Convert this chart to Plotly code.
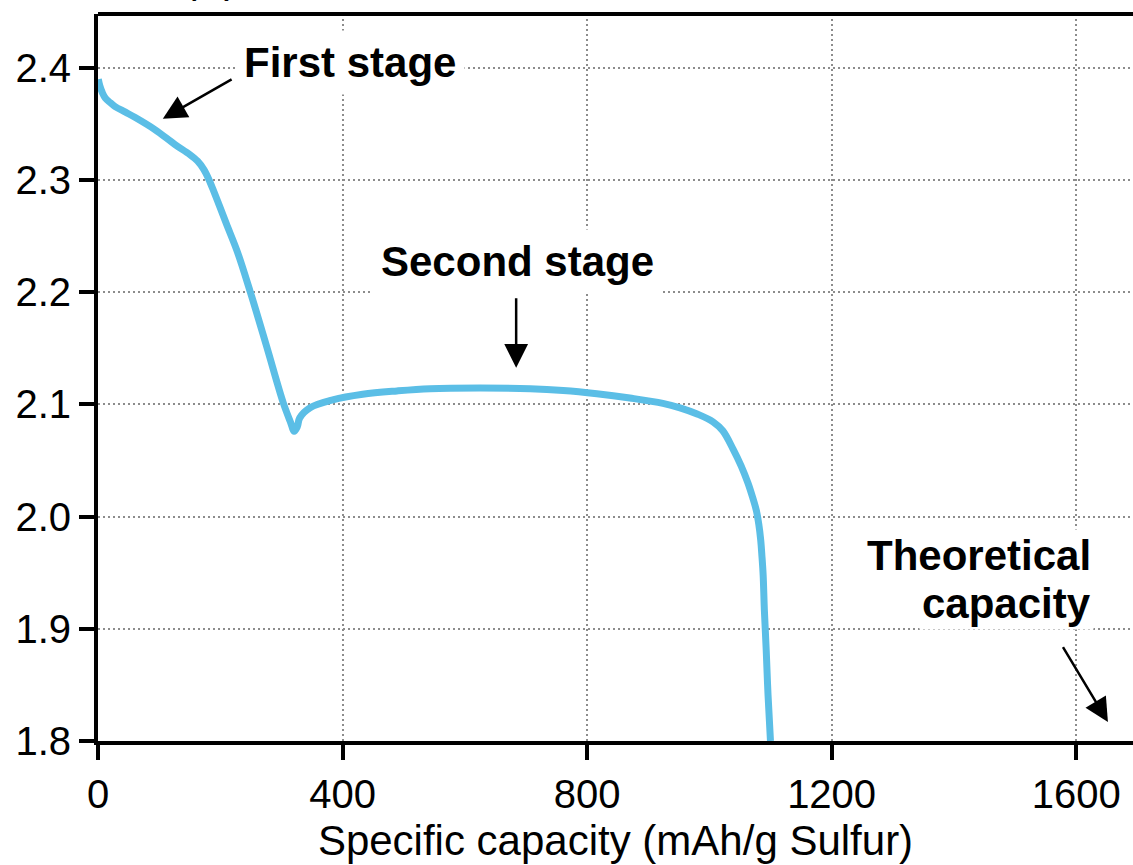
import plotly.graph_objects as go

# Data
capacity = [0.5, 3, 7, 12, 20, 28, 45, 61, 93, 126, 150, 163, 173, 181, 189, 198, 210,
            228, 249, 276, 303, 315, 321, 326, 330, 347, 384, 433, 489, 543, 625, 707,
            761, 816, 870, 924, 952, 980, 1006, 1022, 1039, 1052, 1063, 1071, 1077, 1081,
            1084, 1086, 1088, 1090, 1093, 1096, 1100]
voltage = [2.390, 2.384, 2.378, 2.373, 2.369, 2.3655, 2.3605, 2.3557, 2.345, 2.3316,
           2.3228, 2.3168, 2.3095, 2.3010, 2.2905, 2.2780, 2.2610, 2.2360, 2.2005, 2.1514,
           2.1015, 2.084, 2.076, 2.080, 2.088, 2.097, 2.104, 2.109, 2.112, 2.114, 2.1146,
           2.114, 2.1124, 2.1095, 2.1057, 2.101, 2.097, 2.0915, 2.0845, 2.0765, 2.0600,
           2.0453, 2.0302, 2.0168, 2.0052, 1.9927, 1.9793, 1.9650, 1.9481, 1.9169,
           1.8812, 1.8411, 1.8000]

x_ticks = [0, 400, 800, 1200, 1600]
y_ticks = [1.8, 1.9, 2.0, 2.1, 2.2, 2.3, 2.4]
y_tick_labels = ["1.8", "1.9", "2.0", "2.1", "2.2", "2.3", "2.4"]

FONT = "Liberation Sans, Arial, sans-serif"

fig = go.Figure()
fig.add_trace(go.Scatter(
    x=capacity, y=voltage, mode="lines",
    line=dict(color="#5bbee6", width=7, shape="spline", smoothing=1.0),
    showlegend=False, hoverinfo="skip",
))

axis_common = dict(
    showline=True, linecolor="black", linewidth=4,
    ticks="outside", ticklen=15, tickwidth=4, tickcolor="black",
    showgrid=True, gridcolor="#8c8c8c", gridwidth=1.5, griddash="2px,3px",
    zeroline=False, tickfont=dict(family=FONT, size=40, color="black"),
)

fig.update_xaxes(
    range=[0, 1693], tickvals=x_ticks, ticktext=[str(v) for v in x_ticks],
    title=dict(text="Specific capacity (mAh/g Sulfur)",
               font=dict(family=FONT, size=42, color="black"), standoff=12),
    **axis_common,
)
fig.update_yaxes(
    range=[1.8, 2.448], tickvals=y_ticks, ticktext=y_tick_labels,
    **axis_common,
)

# top border
fig.add_shape(type="line", xref="paper", yref="paper", x0=0, x1=1, y0=1, y1=1,
              line=dict(color="black", width=4), layer="above")

bold = dict(family=FONT, size=42, color="black")
ann = []
# y-axis title shown above the plot (cut off at top, as in the reference)
ann.append(dict(text="Potential (V)", xref="paper", yref="paper", x=0.137, y=1.0,
                xanchor="right", yanchor="bottom", yshift=10, showarrow=False,
                font=dict(family=FONT, size=41, color="black")))
# text labels
ann.append(dict(text="<b>First stage</b>", x=412, y=2.4047, xref="x", yref="y",
                showarrow=False, font=bold, bgcolor="white", borderpad=8))
ann.append(dict(text="<b>Second stage</b>", x=686, y=2.2272, xref="x", yref="y",
                showarrow=False, font=bold, bgcolor="white", borderpad=8))
ann.append(dict(text="<b>Theoretical</b>", x=1629, y=1.965, xref="x", yref="y",
                xanchor="right", showarrow=False, font=bold, bgcolor="white", borderpad=2))
ann.append(dict(text="<b>capacity</b>", x=1629, y=1.923, xref="x", yref="y",
                xanchor="right", showarrow=False, font=bold, bgcolor="white", borderpad=2))
# arrows
arrow_style = dict(text="", showarrow=True, arrowhead=2, arrowsize=1.9, arrowwidth=2.5,
                   arrowcolor="black", xref="x", yref="y", axref="x", ayref="y",
                   standoff=0, startstandoff=0)
ann.append(dict(x=106, y=2.3547, ax=221, ay=2.3905, **arrow_style))
ann.append(dict(x=684, y=2.1327, ax=684, ay=2.196, **arrow_style))
ann.append(dict(x=1652, y=1.817, ax=1577, ay=1.885, **arrow_style))

fig.update_layout(
    width=1133, height=865,
    margin=dict(l=98, r=0, t=14, b=124),
    paper_bgcolor="white", plot_bgcolor="white",
    annotations=ann,
    font=dict(family=FONT, color="black"),
)

fig.write_html("out.html")
